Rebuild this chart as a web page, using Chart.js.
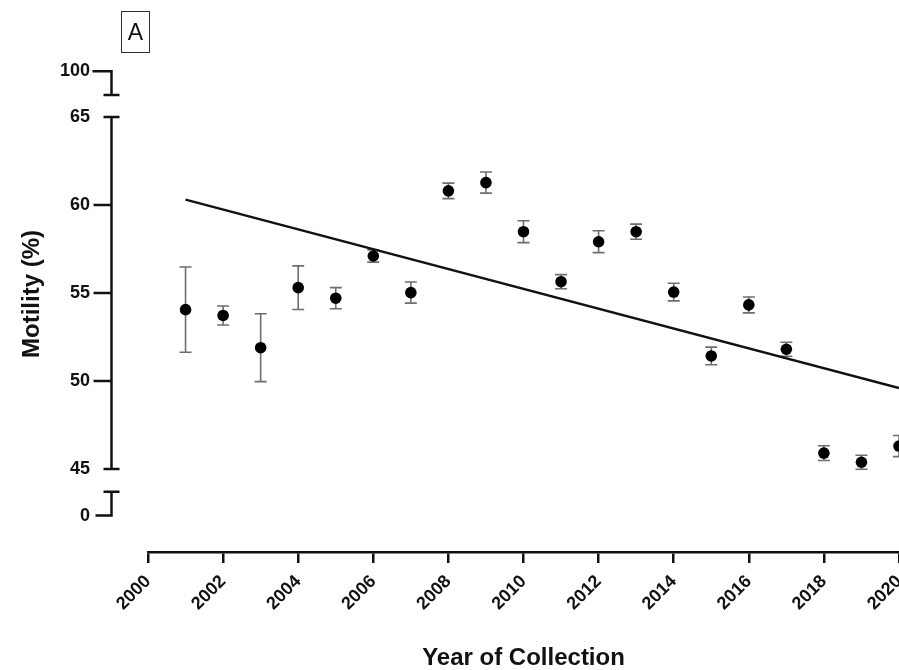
<!DOCTYPE html>
<html>
<head>
<meta charset="utf-8">
<title>Motility by year of collection</title>
<script src="https://cdn.jsdelivr.net/npm/chart.js@4"></script>
<style>
    body { margin: 0; background: #fff; }
    .wrap { position: relative; width: 899px; height: 670px; overflow: hidden; }
    .panel-label {
        position: absolute; left: 121px; top: 11px; width: 27px; height: 40px;
        border: 1.5px solid #333; font: 23px 'Liberation Sans', Arial, sans-serif;
        color: #111; text-align: center; line-height: 40px;
    }
</style>
</head>
<body>
<div class="wrap">
    <canvas id="motilityChart" width="899" height="670"></canvas>
    <div class="panel-label">A</div>
</div>
<script>
// Data
const years = [2001, 2002, 2003, 2004, 2005, 2006, 2007, 2008, 2009, 2010,
               2011, 2012, 2013, 2014, 2015, 2016, 2017, 2018, 2019, 2020];
const motility = [54.05, 53.72, 51.89, 55.3, 54.7, 57.1, 55.02, 60.8, 61.27, 58.48,
                  55.64, 57.91, 58.48, 55.05, 51.42, 54.32, 51.8, 45.9, 45.38, 46.3];
const sem = [2.42, 0.54, 1.93, 1.24, 0.6, 0.35, 0.6, 0.44, 0.6, 0.62,
             0.4, 0.62, 0.43, 0.5, 0.5, 0.45, 0.4, 0.42, 0.4, 0.6];

// Linear trend line endpoints
const trendYears = [2001, 2020];
const trendValues = [60.3, 49.6];

// Y axis ticks; 0 and 100 sit on the stubs of the broken axis
const yTickValues = [42.35, 45, 50, 55, 60, 65, 67.6];
const yTickLabels = ['0', '45', '50', '55', '60', '65', '100'];
const yBreakTop = [67.6, 66.25];
const yBreakBottom = [43.7, 42.35];

const fontFamily = "'Liberation Sans', Arial, sans-serif";
Chart.defaults.font.family = fontFamily;
Chart.defaults.color = '#111';

// Error bars drawn under the points
const errorBars = {
    id: 'errorBars',
    beforeDatasetsDraw(chart) {
        const { ctx, scales: { x, y } } = chart;
        ctx.save();
        ctx.strokeStyle = '#6e6e6e';
        ctx.lineWidth = 1.6;
        years.forEach((yr, i) => {
            const cx = x.getPixelForValue(yr);
            const top = y.getPixelForValue(motility[i] + sem[i]);
            const bot = y.getPixelForValue(motility[i] - sem[i]);
            ctx.beginPath();
            ctx.moveTo(cx, top); ctx.lineTo(cx, bot);
            ctx.moveTo(cx - 6, top); ctx.lineTo(cx + 6, top);
            ctx.moveTo(cx - 6, bot); ctx.lineTo(cx + 6, bot);
            ctx.stroke();
        });
        ctx.restore();
    }
};

// Broken y axis (45-65 with stubs for 0 and 100)
const brokenAxis = {
    id: 'brokenAxis',
    afterDraw(chart) {
        const ctx = chart.ctx;
        const y = chart.scales.y;
        const ax = chart.chartArea.left - 36.5;
        const px = v => y.getPixelForValue(v);
        const seg = (x1, y1, x2, y2) => { ctx.moveTo(x1, y1); ctx.lineTo(x2, y2); };

        ctx.save();
        ctx.strokeStyle = '#111';
        ctx.lineWidth = 2.5;
        ctx.beginPath();
        seg(ax, px(45), ax, px(65));
        seg(ax - 8, px(45), ax + 8, px(45));
        seg(ax - 8, px(65), ax + 8, px(65));
        [50, 55, 60].forEach(v => seg(ax - 18, px(v), ax + 1, px(v)));

        // top stub
        seg(ax - 19, px(yBreakTop[0]), ax + 1.25, px(yBreakTop[0]));
        seg(ax, px(yBreakTop[0]), ax, px(yBreakTop[1]));
        seg(ax - 8, px(yBreakTop[1]), ax + 8, px(yBreakTop[1]));

        // bottom stub
        seg(ax - 8, px(yBreakBottom[0]), ax + 8, px(yBreakBottom[0]));
        seg(ax, px(yBreakBottom[0]), ax, px(yBreakBottom[1]));
        seg(ax - 16, px(yBreakBottom[1]), ax + 1.25, px(yBreakBottom[1]));
        ctx.stroke();
        ctx.restore();
    }
};

const ctx = document.getElementById('motilityChart').getContext('2d');
const motilityChart = new Chart(ctx, {
    type: 'scatter',
    data: {
        datasets: [
            {
                label: 'Trend',
                data: trendYears.map((yr, i) => ({ x: yr, y: trendValues[i] })),
                showLine: true,
                borderColor: '#111',
                borderWidth: 2.4,
                pointRadius: 0,
                order: 2
            },
            {
                label: 'Motility',
                data: years.map((yr, i) => ({ x: yr, y: motility[i] })),
                backgroundColor: '#000',
                borderWidth: 0,
                pointRadius: 5.8,
                pointHoverRadius: 5.8,
                order: 1
            }
        ]
    },
    options: {
        responsive: false,
        animation: false,
        layout: { autoPadding: false, padding: { top: 36, left: 0, right: 0, bottom: 0 } },
        plugins: {
            legend: { display: false },
            tooltip: { enabled: false }
        },
        scales: {
            x: {
                type: 'linear',
                min: 2000,
                max: 2020,
                afterFit: scale => { scale.height = 118; scale.paddingRight = 0; scale.paddingLeft = 0; },
                border: { color: '#111', width: 2.5 },
                grid: {
                    drawOnChartArea: false,
                    drawTicks: true,
                    tickLength: 11,
                    color: '#111',
                    lineWidth: 2.5
                },
                ticks: {
                    stepSize: 2,
                    autoSkip: false,
                    minRotation: 45,
                    maxRotation: 45,
                    padding: 8,
                    color: '#111',
                    font: { size: 18, weight: 'bold' },
                    callback: value => String(value)
                },
                title: {
                    display: true,
                    text: 'Year of Collection',
                    color: '#111',
                    font: { size: 24, weight: 'bold', lineHeight: 1 },
                    padding: 0
                }
            },
            y: {
                min: 40.28,
                max: 69.6,
                afterFit: scale => { scale.width = 148; scale.paddingTop = 0; scale.paddingBottom = 0; },
                afterBuildTicks: scale => {
                    scale.ticks = yTickValues.map(v => ({ value: v }));
                },
                border: { display: false },
                grid: { display: false, drawTicks: false },
                ticks: {
                    padding: 58,
                    color: '#111',
                    font: { size: 18, weight: 'bold' },
                    callback: (value, index) => yTickLabels[index]
                },
                title: {
                    display: true,
                    text: 'Motility (%)',
                    color: '#111',
                    font: { size: 24, weight: 'bold', lineHeight: 1 },
                    padding: { top: 20.5, bottom: 0 }
                }
            }
        }
    },
    plugins: [errorBars, brokenAxis]
});
</script>
</body>
</html>
